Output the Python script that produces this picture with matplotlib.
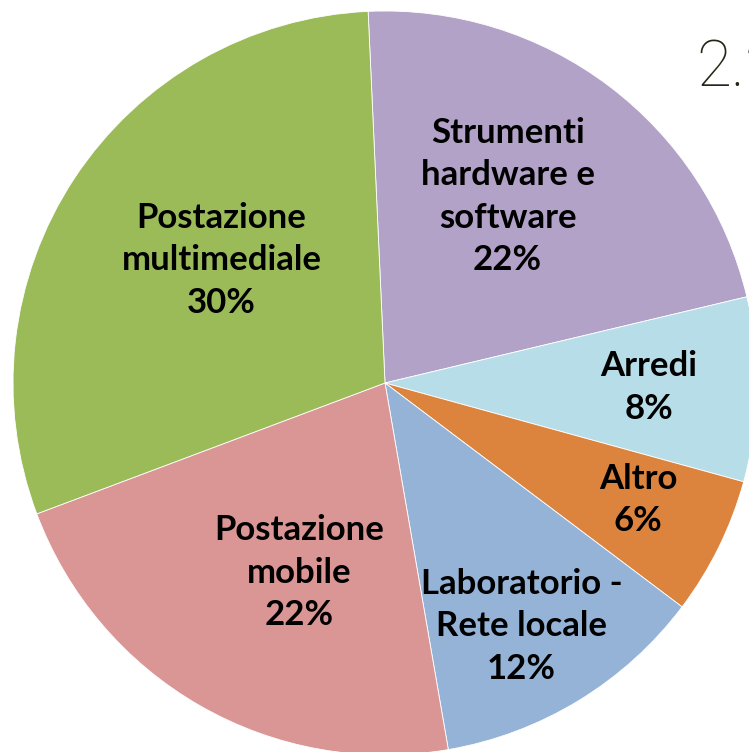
import matplotlib.pyplot as plt
import numpy as np

labels = [
    "Strumenti\nhardware e\nsoftware",
    "Arredi",
    "Altro",
    "Laboratorio -\nRete locale",
    "Postazione\nmobile",
    "Postazione\nmultimediale",
]
shares = [22, 8, 6, 12, 22, 30]
colors = ["#B2A2C7", "#B7DEE8", "#DC843E", "#95B3D7", "#D99694", "#9BBB59"]
label_dist = [0.60, 0.71, 0.75, 0.75, 0.56, 0.55]
label_turn = [3.7, 0.0, 1.4, -2.1, 5.4, -3.5]  # degrees off the wedge middle

W, H = 749, 752
fig = plt.figure(figsize=(W / 100, H / 100), dpi=100)
# pie centre at (385, 383) px from top-left, radius 372 px
cx, cy, R = 385, 383, 372
ax = fig.add_axes([(cx - R) / W, (H - cy - R) / H, 2 * R / W, 2 * R / H])

wedges, _ = ax.pie(shares, colors=colors, startangle=92.6, counterclock=False,
                   wedgeprops=dict(edgecolor="white", linewidth=0.6))
ax.set_xlim(-1, 1)
ax.set_ylim(-1, 1)
ax.set_aspect("equal")
ax.axis("off")

for w, lab, pct, d, t in zip(wedges, labels, shares, label_dist, label_turn):
    mid = np.deg2rad((w.theta1 + w.theta2) / 2 + t)
    ax.text(d * np.cos(mid), d * np.sin(mid), "{}\n{}%".format(lab, pct),
            ha="center", va="center", family="Lato", fontweight="bold",
            fontsize=25, linespacing=1.4, color="black")

fig.text(696 / W, 1 - 68 / H, "2.2", ha="left", va="center", family="Roboto",
         fontweight="light", fontsize=46, color="#262617")

plt.savefig("out.png", dpi=100)
